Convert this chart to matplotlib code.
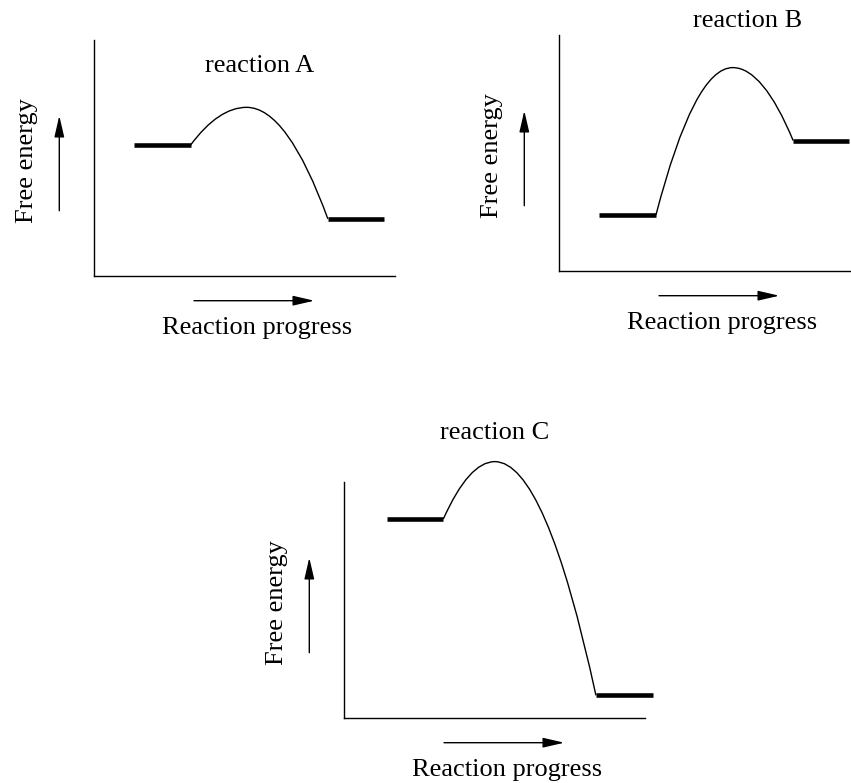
import numpy as np
import matplotlib.pyplot as plt
from matplotlib.path import Path
from matplotlib.patches import PathPatch

plt.rcParams['font.family'] = ['Liberation Serif', 'DejaVu Serif']

# energy profiles (x: reaction progress 0-10, y: free energy 0-8)
names = ['reaction A', 'reaction B', 'reaction C']
reactant_x = [(1.33, 3.20), (1.33, 3.21), (1.41, 3.29)]
reactant_G = [4.44, 1.89, 6.75]
peak_x = [5.06, 5.76, 5.00]
peak_G = [5.72, 6.90, 8.70]
product_x = [(7.76, 9.62), (7.77, 9.63), (8.36, 10.27)]
product_G = [1.93, 4.42, 0.76]
title_xy = [(5.50, 6.91), (6.27, 8.27), (5.00, 9.46)]

# axes origin in pixels (left, top) of the 851x783 figure
W, H = 851, 783
origins = [(94.3, 275.7), (559.3, 270.7), (344.3, 717.7)]
aw, ah = 301, 235.5

fig = plt.figure(figsize=(W / 100, H / 100), dpi=100)

def panel(ax, i):
    ax.set_xlim(0, 10)
    ax.set_ylim(0, 8)
    for s in ['top', 'right']:
        ax.spines[s].set_visible(False)
    for s in ['left', 'bottom']:
        ax.spines[s].set_linewidth(1.0)
    ax.set_xticks([])
    ax.set_yticks([])
    ax.patch.set_visible(False)

    # plateaus
    ax.plot(reactant_x[i], [reactant_G[i]] * 2, color='black', lw=3.3,
            solid_capstyle='butt', clip_on=False)
    ax.plot(product_x[i], [product_G[i]] * 2, color='black', lw=3.3,
            solid_capstyle='butt', clip_on=False)

    # barrier: two quadratic bezier halves meeting at the peak
    x0, y0 = reactant_x[i][1], reactant_G[i]
    xp, yp = peak_x[i], peak_G[i]
    x1, y1 = product_x[i][0], product_G[i]
    verts = [(x0, y0), ((x0 + xp) / 2, yp), (xp, yp),
             ((xp + x1) / 2, yp), (x1, y1)]
    codes = [Path.MOVETO, Path.CURVE3, Path.CURVE3, Path.CURVE3, Path.CURVE3]
    ax.add_patch(PathPatch(Path(verts, codes), fill=False, lw=1.0,
                           edgecolor='black', clip_on=False))

    ax.text(title_xy[i][0], title_xy[i][1], names[i], ha='center',
            va='baseline', fontsize=19, clip_on=False)

    # arrows and axis labels
    arr = dict(arrowstyle='-|>,head_length=0.65,head_width=0.15',
               color='black', lw=1.0, mutation_scale=20, shrinkA=0, shrinkB=0)
    ax.annotate('', xy=(220 / aw, -25 / ah), xytext=(99.7 / aw, -25 / ah),
                xycoords='axes fraction', arrowprops=arr)
    ax.annotate('', xy=(-35 / aw, 160 / ah), xytext=(-35 / aw, 65 / ah),
                xycoords='axes fraction', arrowprops=arr)
    ax.text(162.5 / aw, -58.5 / ah, 'Reaction progress', ha='center',
            va='baseline', fontsize=19, transform=ax.transAxes)
    ax.text(-67.5 / aw, 115 / ah, 'Free energy', ha='center', va='center',
            rotation=90, fontsize=19, transform=ax.transAxes)

for i, (ox, oy) in enumerate(origins):
    ax = fig.add_axes([ox / W, 1 - oy / H, aw / W, ah / H])
    panel(ax, i)

fig.savefig('out.png', dpi=100)
